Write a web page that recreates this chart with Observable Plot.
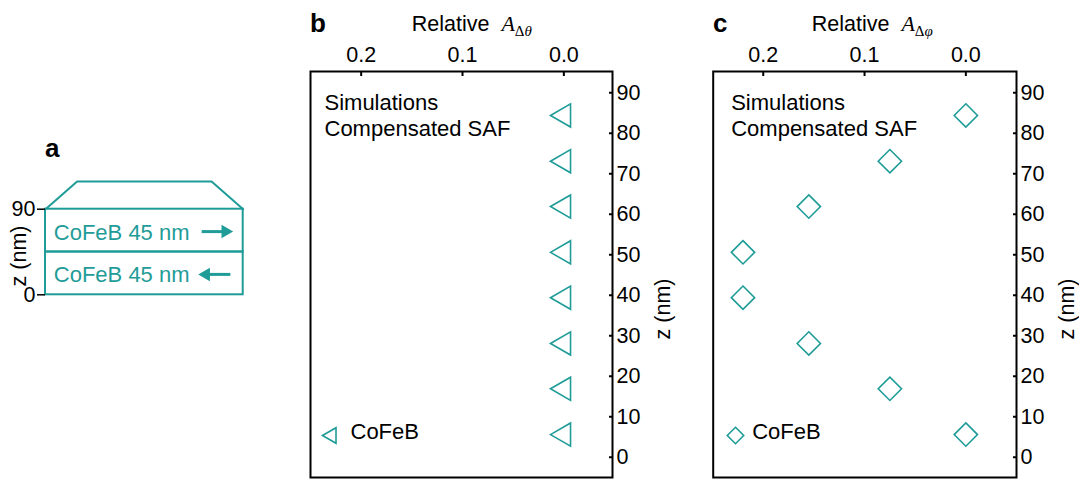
<!DOCTYPE html>
<html><head><meta charset="utf-8">
<script src="https://cdn.jsdelivr.net/npm/d3@7"></script>
<script src="https://cdn.jsdelivr.net/npm/@observablehq/plot@0.6"></script>
<style>
body{margin:0;background:#fff;}
#root{position:relative;width:1079px;height:479px;overflow:hidden;font-family:"Liberation Sans",Arial,sans-serif;color:#000;}
.abs{position:absolute;white-space:nowrap;line-height:1;}
.pl{position:absolute;top:0;}
.lt{font-weight:bold;font-size:26px;}
.ttl{font-size:21.5px;}
.m{font-family:"Liberation Serif","Times New Roman",serif;font-style:italic;font-size:22px;margin-left:12px;}
.m sub{font-size:15px;vertical-align:-5px;font-style:normal;}
.m sub i{font-style:italic;}
</style></head>
<body><div id="root"></div>
<script>
// ---- data ----
const layerNames = ["CoFeB 45 nm", "CoFeB 45 nm"];
const layerBottom = [45, 0];
const layerTop = [90, 45];
const layerDir = [1, -1];           // magnetization direction: +1 right, -1 left
const zSim = [5.6, 16.9, 28.1, 39.4, 50.6, 61.9, 73.1, 84.4];   // z (nm)
const relATheta = [0, 0, 0, 0, 0, 0, 0, 0];                       // Relative A_Δθ
const relAPhi = [0, 0.075, 0.155, 0.22, 0.22, 0.155, 0.075, 0];   // Relative A_Δφ
const xTicks = [0, 0.1, 0.2];
const zTicks = [0, 10, 20, 30, 40, 50, 60, 70, 80, 90];
const schemTicks = [0, 90];
const legendTitle = "Simulations\nCompensated SAF";
const seriesName = "CoFeB";
const zLabel = "z (nm)";

const teal = "#1f9c98";
const font = '"Liberation Sans", Arial, sans-serif';
const root = document.getElementById("root");

function place(node, left) {
  node.classList.add("pl");
  node.style.left = left + "px";
  root.appendChild(node);
}
function label(html, left, top, cls) {
  const d = document.createElement("div");
  d.className = "abs " + (cls || "");
  d.style.left = left + "px";
  d.style.top = top + "px";
  d.innerHTML = html;
  root.appendChild(d);
}

// ---- panel a: schematic ----
const layers = layerNames.map((name, i) => ({name, z0: layerBottom[i], z1: layerTop[i], dir: layerDir[i]}));
const capShape = [{u: 0, z: 90}, {u: 16, z: 119.2}, {u: 84, z: 119.2}, {u: 100, z: 90}];
const mid = d => (d.z0 + d.z1) / 2;
const pa = Plot.plot({
  width: 260, height: 479, marginLeft: 45, marginTop: 0, marginBottom: 0, marginRight: 0,
  style: {fontFamily: font, fontSize: "21.5px", color: "black", background: "transparent", overflow: "visible"},
  x: {domain: [0, 100], range: [45, 242.7], axis: null},
  y: {domain: [0, 90], range: [294.3, 208.7], axis: null},
  marks: [
    Plot.rect(layers, {x1: () => 0, x2: () => 100, y1: "z0", y2: "z1", fill: "none", stroke: teal, strokeWidth: 2}),
    Plot.line(capShape, {x: "u", y: "z", stroke: teal, strokeWidth: 2}),
    Plot.text(layers, {x: () => 4.2, y: mid, text: "name", textAnchor: "start", fill: teal, fontSize: 22, dy: 2}),
    Plot.link(layers, {x1: d => d.dir > 0 ? 79 : 93.5, x2: d => d.dir > 0 ? 91.5 : 80.7, y1: mid, y2: mid, stroke: teal, strokeWidth: 3, dy: 1}),
    Plot.dot(layers, {x: d => d.dir > 0 ? 91.0 : 81.2, y: mid, symbol: "triangle", r: 5, fill: teal, stroke: "none", rotate: d => d.dir > 0 ? 90 : -90, dy: 1}),
    Plot.axisY({anchor: "left", ticks: schemTicks, tickSize: 8, tickPadding: 2, label: null, strokeWidth: 1.5}),
    Plot.text([zLabel], {x: () => 0, y: () => 45, text: d => d, rotate: -90, dx: -26, dy: 4, fontSize: 21.5})
  ]
});
place(pa, 0);

// ---- panels b and c ----
function panel(values, opts) {
  const data = zSim.map((z, i) => ({z, v: values[i]}));
  return Plot.plot({
    width: opts.width, height: 479,
    marginTop: 71, marginBottom: 2, marginLeft: opts.ml, marginRight: opts.mr,
    style: {fontFamily: font, fontSize: "21.5px", color: "black", background: "transparent", overflow: "visible"},
    x: {domain: opts.xDomain},
    y: {domain: [-5.0, 95.25]},
    marks: [
      Plot.frame({stroke: "black", strokeWidth: 2}),
      Plot.axisX({anchor: "top", ticks: xTicks, tickFormat: d3.format(".1f"), tickSize: -4, tickPadding: 14, label: null, strokeWidth: 2}),
      Plot.axisY({anchor: "right", ticks: zTicks, tickSize: -4, tickPadding: 8, label: null, strokeWidth: 2}),
      Plot.dot(data, {x: "v", y: "z", symbol: opts.symbol, r: opts.r, rotate: opts.rotate, stroke: teal, strokeWidth: 1.6, fill: "none"}),
      Plot.text([legendTitle], {frameAnchor: "top-left", text: d => d, textAnchor: "start", lineAnchor: "top", lineHeight: 1.18, dx: opts.tdx, dy: 20.5, fontSize: 22}),
      Plot.dot([seriesName], {frameAnchor: "bottom-left", symbol: opts.symbol, r: opts.lr, rotate: opts.rotate, stroke: teal, strokeWidth: 1.6, fill: "none", dx: opts.ldx, dy: -42}),
      Plot.text([seriesName], {frameAnchor: "bottom-left", text: d => d, textAnchor: "start", dx: opts.ltx, dy: -39, fontSize: 22}),
      Plot.text([zLabel], {frameAnchor: "right", text: d => d, rotate: -90, dx: opts.zdx, dy: 4, fontSize: 21.5})
    ]
  });
}

const pb = panel(relATheta, {width: 380, ml: 10, mr: 68, xDomain: [0.25, -0.048], symbol: "triangle", r: 8.6, lr: 5.8, rotate: -90, tdx: 14, ldx: 21, ltx: 40, zdx: 51});
place(pb, 300);
const pc = panel(relAPhi, {width: 379, ml: 12.7, mr: 63, xDomain: [0.2494, -0.05], symbol: "diamond2", r: 10.5, lr: 7.4, rotate: 0, tdx: 18, ldx: 22.3, ltx: 39, zdx: 51});
place(pc, 700);

// ---- titles ----
label("a", 45, 135, "lt");
label("b", 310, 9.5, "lt");
label("c", 713, 9.5, "lt");
label('Relative<span class="m">A<sub>Δ<i>θ</i></sub></span>', 411.7, 12.5, "ttl");
label('Relative<span class="m">A<sub>Δ<i>φ</i></sub></span>', 811.7, 12.5, "ttl");
</script>
</body></html>
